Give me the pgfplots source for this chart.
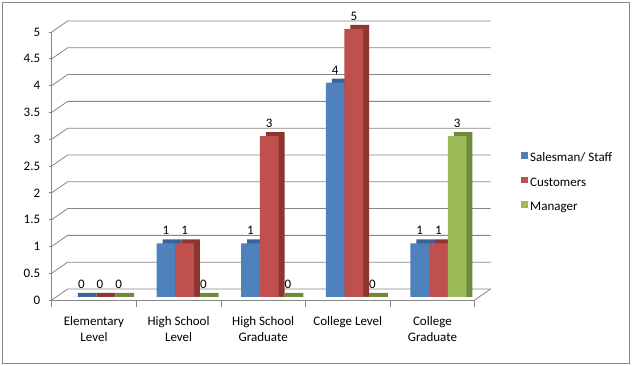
\documentclass[border=0pt]{standalone}
\usepackage{fontspec}
\setmainfont{Carlito}
\usepackage{pgfplots}
\pgfplotsset{compat=1.18}
\usepackage{pgfplotstable}
\definecolor{gridc}{HTML}{868686}
\definecolor{sb}{HTML}{4F81BD}
\definecolor{sbD}{HTML}{3A6498}
\definecolor{sr}{HTML}{C0504D}
\definecolor{srD}{HTML}{8E3532}
\definecolor{sg}{HTML}{9BBB59}
\definecolor{sgD}{HTML}{6E8A3A}
\pgfplotstableread{
cat S C M
0 0 0 0
1 1 1 0
2 1 3 0
3 4 5 0
4 1 1 3
}\datatable
\begin{document}
\begin{tikzpicture}[font=\fontsize{13bp}{16bp}\selectfont]
\path[use as bounding box] (0,0) rectangle (632bp,366bp);
\draw[gridc, line width=0.8bp, fill=white] (2.5bp,2.5bp) rectangle (629.5bp,363.5bp);
\begin{axis}[
  at={(51.7bp,66bp)}, anchor=south west,
  x=84.6bp, y=53.6bp,
  xmin=-0.5, xmax=4.5, ymin=0, ymax=5,
  clip=false,
  axis x line*=bottom, axis y line*=left,
  axis line style={draw=gridc, line width=0.8bp},
  /pgf/number format/assume math mode=true,
  ytick={0,0.5,...,5},
  tick align=outside,
  major tick length=3bp,
  ytick style={draw=gridc, line width=0.8bp},
  xtick={0,1,2,3,4},
  xtick style={draw=none},
  xticklabels={{Elementary\\Level},{High School\\Level},{High School\\Graduate},{College Level},{College\\Graduate}},
  xticklabel style={align=center, font=\fontsize{13bp}{16.5bp}\selectfont, yshift=-9.5bp},
  yticklabel style={anchor=east, xshift=-5bp},
  ybar, bar width=18.7bp,
  legend style={at={(1.1095,0.4366)}, anchor=west, draw=none, fill=none, inner sep=0pt,
     row sep=12bp, column sep=2bp,
     nodes={inner sep=0pt, text height=9bp, text depth=3bp}},
  legend cell align=left,
  nodes near coords style={font=\fontsize{13bp}{16bp}\selectfont, text=black, anchor=south, yshift=5bp},
]
\pgfplotsinvokeforeach{0,0.5,1,1.5,2,2.5,3,3.5,4,4.5,5}{
  \draw[gridc, line width=0.8bp] (axis cs:-0.5,#1) -- ([shift={(16bp,11bp)}]axis cs:-0.5,#1) -- ([shift={(16bp,11bp)}]axis cs:4.5,#1);
}
\draw[gridc, line width=0.8bp] (axis cs:4.5,0) -- ([shift={(16bp,11bp)}]axis cs:4.5,0);
\pgfplotsinvokeforeach{-0.5,0.5,1.5,2.5,3.5,4.5}{
  \draw[gridc, line width=0.8bp] (axis cs:#1,0) -- ([yshift=-7bp]axis cs:#1,0);
}
% Salesman/ Staff
\addplot[fill=sbD, draw=none, bar shift=-6.7bp, yshift=3bp, forget plot] table[x=cat, y expr=\thisrow{S}+0.075] {\datatable};
\addplot[fill=sb, draw=none, bar shift=-12.7bp, yshift=3bp, nodes near coords,
  legend image code/.code={\fill[sb] (0bp,-3bp) rectangle (7bp,3.5bp);}] table[x=cat, y=S] {\datatable};
\addlegendentry{Salesman/ Staff}
% Customers
\addplot[fill=srD, draw=none, bar shift=12bp, yshift=3bp, forget plot] table[x=cat, y expr=\thisrow{C}+0.075] {\datatable};
\addplot[fill=sr, draw=none, bar shift=6bp, yshift=3bp, nodes near coords,
  legend image code/.code={\fill[sr] (0bp,-3bp) rectangle (7bp,3.5bp);}] table[x=cat, y=C] {\datatable};
\addlegendentry{Customers}
% Manager
\addplot[fill=sgD, draw=none, bar shift=30.7bp, yshift=3bp, forget plot] table[x=cat, y expr=\thisrow{M}+0.075] {\datatable};
\addplot[fill=sg, draw=none, bar shift=24.7bp, yshift=3bp, nodes near coords,
  legend image code/.code={\fill[sg] (0bp,-3bp) rectangle (7bp,3.5bp);}] table[x=cat, y=M] {\datatable};
\addlegendentry{Manager}
\end{axis}
\end{tikzpicture}
\end{document}
